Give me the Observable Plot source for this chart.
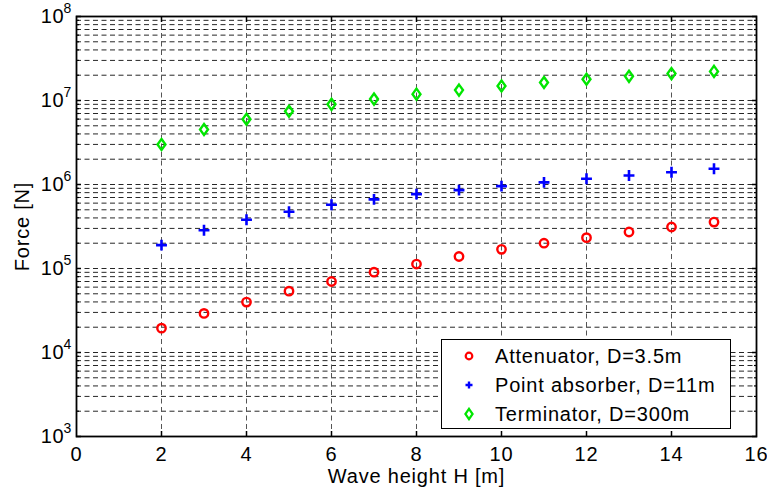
<!DOCTYPE html>
<html><head><meta charset="utf-8">
<script src="https://cdn.jsdelivr.net/npm/d3@7"></script>
<script src="https://cdn.jsdelivr.net/npm/@observablehq/plot@0.6"></script>
<style>
body{margin:0;background:#fff;font-family:"Liberation Sans",Arial,sans-serif;}
#wrap{position:relative;width:767px;height:493px;}
#legend{position:absolute;left:441px;top:339px;width:290px;height:90px;border:1.5px solid #000;background:#fff;box-sizing:border-box;font-size:20px;letter-spacing:0.8px;color:#000;}
#legend .row{position:absolute;left:0;height:28px;line-height:28px;white-space:nowrap;}
#legend svg{position:absolute;left:20px;top:7px;}
#legend span{position:absolute;left:53px;}
</style></head><body><div id="wrap"></div>
<script>
const waveHeight = [2,3,4,5,6,7,8,9,10,11,12,13,14,15];
const attenuator = [1.95e4,2.92e4,3.98e4,5.37e4,7.0e4,9.04e4,1.13e5,1.39e5,1.69e5,2.0e5,2.33e5,2.72e5,3.12e5,3.57e5];
const pointAbsorber = [1.9e5,2.85e5,3.81e5,4.74e5,5.74e5,6.65e5,7.69e5,8.58e5,9.57e5,1.06e6,1.17e6,1.28e6,1.40e6,1.54e6];
const terminator = [2.99e6,4.51e6,5.98e6,7.44e6,9.0e6,1.04e7,1.19e7,1.33e7,1.49e7,1.64e7,1.79e7,1.94e7,2.09e7,2.22e7];
const seriesNames = ["Attenuator, D=3.5m","Point absorber, D=11m","Terminator, D=300m"];
const seriesColors = ["#ff0000","#0000ff","#00e600"];
const xTicks = [0,2,4,6,8,10,12,14,16];
const xGrid = [2,4,6,8,10,12,14];
const yMajor = [1e3,1e4,1e5,1e6,1e7,1e8];
const yMinor = [];
for (let k = 3; k < 8; k++) for (let m = 2; m <= 9; m++) yMinor.push(m * Math.pow(10, k));
const yGrid = yMajor.concat(yMinor);

const rows = waveHeight.map((h, i) => ({h, a: attenuator[i], p: pointAbsorber[i], t: terminator[i]}));

const diamond = {
  draw(context, size) {
    const r = Math.sqrt(size / Math.PI);
    const hh = r * 1.2, hw = hh * 0.72;
    context.moveTo(0, -hh); context.lineTo(hw, 0); context.lineTo(0, hh); context.lineTo(-hw, 0); context.closePath();
  }
};

const chart = Plot.plot({
  width: 767, height: 493,
  marginLeft: 76, marginRight: 11, marginTop: 16, marginBottom: 57,
  style: {fontFamily: "'Liberation Sans', Arial, sans-serif", fontSize: "20px", letterSpacing: "0.8px", background: "#fff", color: "#000"},
  x: {domain: [0, 16]},
  y: {type: "log", domain: [1e3, 1e8]},
  marks: [
    Plot.ruleY(yGrid, {stroke: "#000", strokeOpacity: 0.85, strokeWidth: 1, strokeDasharray: "5,3.5"}),
    Plot.ruleX(xGrid, {stroke: "#555", strokeWidth: 1, strokeDasharray: "5,3.5"}),
    Plot.axisX({ticks: xTicks, tickSize: 0, tickPadding: 10, fontSize: 20, label: "Wave height H [m]", labelAnchor: "center", labelOffset: 46, labelArrow: false}),
    Plot.axisX({ticks: xGrid, anchor: "bottom", tickSize: -5, tickFormat: () => "", label: null, strokeWidth: 1.5}),
    Plot.axisX({ticks: xGrid, anchor: "top", tickSize: -5, tickFormat: () => "", label: null, strokeWidth: 1.5}),
    Plot.axisY({ticks: yMajor, tickSize: 0, tickPadding: 12, tickFormat: () => "10", fontSize: 20, label: "Force [N]", labelAnchor: "center", labelOffset: 62, labelArrow: false}),
    Plot.axisY({ticks: yMajor, anchor: "left", tickSize: -5, tickFormat: () => "", label: null, strokeWidth: 1.5}),
    Plot.axisY({ticks: yMajor, anchor: "right", tickSize: -5, tickFormat: () => "", label: null, strokeWidth: 1.5}),
    Plot.axisY({ticks: yMinor, anchor: "left", tickSize: -3, tickFormat: () => "", label: null, strokeWidth: 1.2}),
    Plot.axisY({ticks: yMinor, anchor: "right", tickSize: -3, tickFormat: () => "", label: null, strokeWidth: 1.2}),
    Plot.text(yMajor, {y: d => d, frameAnchor: "left", text: d => String(Math.round(Math.log10(d))), dx: -13, dy: -8, textAnchor: "start", fontSize: 14}),
    Plot.frame({stroke: "#000", strokeWidth: 1.8}),
    Plot.dot(rows, {x: "h", y: "a", symbol: "circle", r: 4.2, stroke: seriesColors[0], strokeWidth: 2.4, fill: "none"}),
    Plot.dot(rows, {x: "h", y: "p", symbol: "plus", r: 3.6, stroke: seriesColors[1], strokeWidth: 2.6}),
    Plot.dot(rows, {x: "h", y: "t", symbol: diamond, r: 4.6, stroke: seriesColors[2], strokeWidth: 2.4, fill: "none"})
  ]
});

const wrap = document.getElementById("wrap");
wrap.appendChild(chart);

const legend = document.createElement("div");
legend.id = "legend";
const markerSvgs = [
  `<svg width="14" height="14" viewBox="-7 -7 14 14"><circle r="3.3" fill="none" stroke="${seriesColors[0]}" stroke-width="2.2"/></svg>`,
  `<svg width="14" height="14" viewBox="-7 -7 14 14"><path d="M-3.5,0H3.5M0,-3.5V3.5" stroke="${seriesColors[1]}" stroke-width="2.4"/></svg>`,
  `<svg width="14" height="14" viewBox="-7 -7 14 14"><path d="M0,-5.2L3.6,0L0,5.2L-3.6,0Z" fill="none" stroke="${seriesColors[2]}" stroke-width="2.2"/></svg>`
];
seriesNames.forEach((name, i) => {
  const row = document.createElement("div");
  row.className = "row";
  row.style.top = (2 + i * 28.8) + "px";
  row.style.width = "100%";
  row.innerHTML = markerSvgs[i] + `<span>${name}</span>`;
  legend.appendChild(row);
});
wrap.appendChild(legend);
</script>
</body></html>
